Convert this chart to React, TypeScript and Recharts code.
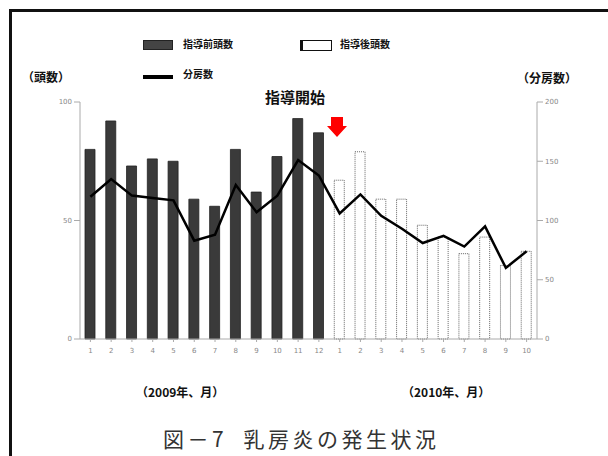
import { Bar, ComposedChart, Line, XAxis, YAxis } from "recharts";

const months = ["1", "2", "3", "4", "5", "6", "7", "8", "9", "10", "11", "12", "1", "2", "3", "4", "5", "6", "7", "8", "9", "10"];
const preCounts = [80, 92, 73, 76, 75, 59, 56, 80, 62, 77, 93, 87];
const postCounts = [67, 79, 59, 59, 48, 43, 36, 43, 31, 37];
const quarters = [120, 135, 121, 119, 117, 83, 88, 130, 107, 121, 151, 138, 106, 122, 104, 93, 81, 87, 78, 95, 60, 74];

const jp = "'Noto Sans CJK JP', 'Noto Sans', sans-serif";

const data = months.map((m, i) => ({
  key: `${i < 12 ? 2009 : 2010}-${m}`,
  month: m,
  pre: i < 12 ? preCounts[i] : undefined,
  post: i >= 12 ? postCounts[i - 12] : undefined,
  quarters: quarters[i]
}));

const label = (text: string, left: number, top: number, size = 11, extra = {}) => (
  <div
    style={{
      position: "absolute",
      left,
      top,
      fontFamily: jp,
      fontSize: size,
      fontWeight: 700,
      color: "#111",
      whiteSpace: "pre",
      lineHeight: 1,
      ...extra
    }}
  >
    {text}
  </div>
);

const tickStyle = { fontSize: 7, fill: "#888", fontFamily: "'DejaVu Sans', sans-serif" };

export default function App() {
  return (
    <div style={{ position: "absolute", left: 0, top: 0, width: 608, height: 456, background: "#fff", overflow: "hidden" }}>
      {/* frame, only left and top edges show */}
      <div style={{ position: "absolute", left: 9, top: 9, width: 640, height: 500, border: "3px solid #111" }} />

      <ComposedChart
        width={608}
        height={456}
        data={data}
        margin={{ top: 102, right: 31, bottom: 97, left: 30 }}
        style={{ position: "absolute", left: 0, top: 0 }}
      >
        <XAxis
          dataKey="key"
          tickFormatter={(v: string) => v.split("-")[1]}
          interval={0}
          tick={tickStyle}
          axisLine={{ stroke: "#aaa" }}
          tickLine={{ stroke: "#aaa" }}
          tickSize={3}
          tickMargin={6}
          height={20}
        />
        <YAxis
          yAxisId="left"
          domain={[0, 100]}
          ticks={[0, 50, 100]}
          tick={tickStyle}
          axisLine={{ stroke: "#aaa" }}
          tickLine={{ stroke: "#aaa" }}
          width={50}
        />
        <YAxis
          yAxisId="right"
          orientation="right"
          domain={[0, 200]}
          ticks={[0, 50, 100, 150, 200]}
          tick={tickStyle}
          axisLine={{ stroke: "#aaa" }}
          tickLine={{ stroke: "#aaa" }}
          width={40}
        />
        <Bar yAxisId="left" dataKey="pre" stackId="a" barSize={10} fill="#3a3a3a" stroke="#222" strokeWidth={0.8} isAnimationActive={false} />
        <Bar yAxisId="left" dataKey="post" stackId="a" barSize={10} fill="#fff" stroke="#666" strokeWidth={1} strokeDasharray="1 1" isAnimationActive={false} />
        <Line yAxisId="right" dataKey="quarters" type="linear" stroke="#000" strokeWidth={2.5} dot={false} isAnimationActive={false} />
      </ComposedChart>

      {/* legend */}
      <div style={{ position: "absolute", left: 143, top: 40, width: 30, height: 10, background: "#444", border: "1px solid #222", boxSizing: "border-box" }} />
      {label("指導前頭数", 183, 39, 10)}
      <div style={{ position: "absolute", left: 300, top: 40, width: 32, height: 11, background: "#fff", border: "1px solid #111", borderLeftWidth: 3, boxSizing: "border-box" }} />
      {label("指導後頭数", 340, 39, 10)}
      <div style={{ position: "absolute", left: 143, top: 75, width: 30, height: 4, background: "#000" }} />
      {label("分房数", 183, 69, 10)}

      {label("（頭数）", 22, 71, 12)}
      {label("（分房数）", 517, 72, 12)}
      {label("指導開始", 265, 89, 15)}

      {/* red arrow */}
      <svg style={{ position: "absolute", left: 326, top: 117 }} width={22} height={22}>
        <polygon points="5,0 17,0 17,9 21,9 11,20 1,9 5,9" fill="#ff0000" />
      </svg>

      {label("（2009年、月）", 136, 386, 12)}
      {label("（2010年、月）", 402, 386, 12)}
      {label("図－7  乳房炎の発生状況", 163, 428, 21, { fontWeight: 400, color: "#333", letterSpacing: 3.5 })}
    </div>
  );
}
